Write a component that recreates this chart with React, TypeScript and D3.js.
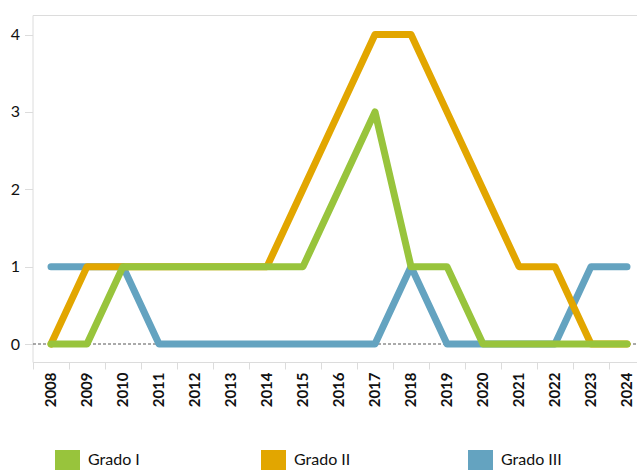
import React from "react";
import * as d3 from "d3";

const years = ["2008","2009","2010","2011","2012","2013","2014","2015","2016","2017","2018","2019","2020","2021","2022","2023","2024"];
const gradoI = [0,0,1,1,1,1,1,1,2,3,1,1,0,0,0,0,0];
const gradoII = [0,1,1,1,1,1,1,2,3,4,4,3,2,1,1,0,0];
const gradoIII = [1,1,1,0,0,0,0,0,0,0,1,0,0,0,0,1,1];
const yTicks = [0,1,2,3,4];
const seriesNames = ["Grado I","Grado II","Grado III"];
const seriesColors = ["#98c43c","#e2a600","#64a3c0"];

const W = 637, H = 470;
const left = 33, bandW = 36;
const x = d3.scaleBand<string>().domain(years).range([left, left + bandW * years.length]).padding(0);
const y = d3.scaleLinear().domain([0, 4]).range([344, 34.5]);
const top = 15.5, bottom = 362.5;
const font = "Lato, 'Open Sans', sans-serif";
const legendX = [55, 261, 468];

export default function App() {
  const line = d3.line<number>()
    .x((_, i) => (x(years[i]) as number) + x.bandwidth() / 2)
    .y(d => y(d));
  const data = [gradoI, gradoII, gradoIII];
  const drawOrder = [2, 1, 0];
  return (
    <svg width={W} height={H} style={{ position: "absolute", left: 0, top: 0 }}>
      <rect width={W} height={H} fill="#fff" />
      <line x1={left} x2={W} y1={top} y2={top} stroke="#dcdcdc" strokeWidth={1} />
      <line x1={left} x2={left} y1={top} y2={bottom} stroke="#dcdcdc" strokeWidth={1} />
      <line x1={left} x2={W} y1={bottom} y2={bottom} stroke="#dcdcdc" strokeWidth={1} />
      {yTicks.map(t => (
        <g key={t}>
          <line x1={25} x2={left} y1={Math.round(y(t)) + 0.5} y2={Math.round(y(t)) + 0.5} stroke="#dcdcdc" />
          <text x={20} y={y(t)} dy="0.35em" textAnchor="end" fontFamily={font} fontSize={16} fill="#111">{t}</text>
        </g>
      ))}
      {years.map(yr => (
        <g key={yr}>
          <line x1={(x(yr) as number) + 0.5} x2={(x(yr) as number) + 0.5} y1={bottom} y2={bottom + 7} stroke="#dcdcdc" />
          <text
            transform={`translate(${(x(yr) as number) + bandW / 2},${bottom + 10}) rotate(-90)`}
            dy="0.35em" textAnchor="end" fontFamily={font} fontWeight="bold" fontSize={15} fill="#111">{yr}</text>
        </g>
      ))}
      <line x1={left} x2={W} y1={y(0)} y2={y(0)} stroke="#555" strokeWidth={1} strokeDasharray="3,2" />
      {drawOrder.map(si => (
        <path key={si} d={line(data[si]) as string} fill="none" stroke={seriesColors[si]}
          strokeWidth={7} strokeLinejoin="round" strokeLinecap="round" />
      ))}
      {seriesNames.map((n, i) => (
        <g key={n}>
          <rect x={legendX[i]} y={450} width={25} height={20} fill={seriesColors[i]} />
          <text x={legendX[i] + 33} y={465} fontFamily={font} fontSize={16} fill="#111">{n}</text>
        </g>
      ))}
    </svg>
  );
}
